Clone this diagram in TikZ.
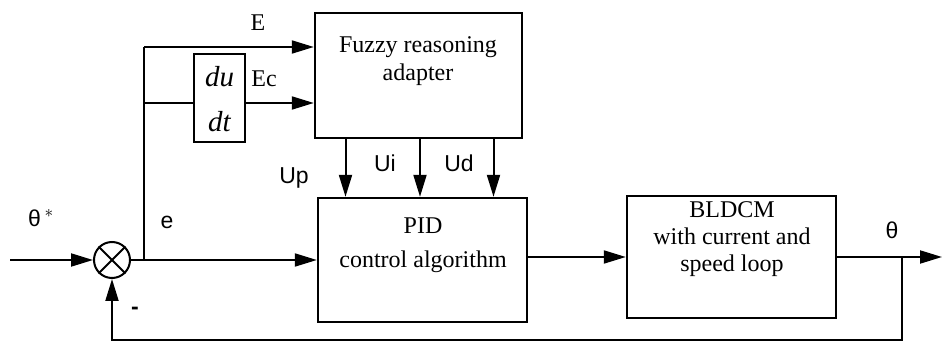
\documentclass[tikz,border=0pt]{standalone}
\usepackage{fontspec}
\setmainfont{Liberation Serif}
\newfontfamily\lsans{Liberation Sans}
\usetikzlibrary{arrows.meta}
\begin{document}
\begin{tikzpicture}[x=1pt,y=-1pt,
  blockbox/.style={draw, line width=2.4pt, inner sep=0pt},
  sig/.style={line width=2pt},
  arr/.style={sig, -{Triangle[length=22pt,width=13pt]}},
  txt/.style={font=\fontsize{24}{28}\selectfont, inner sep=0pt, align=center},
  stxt/.style={font=\lsans\fontsize{23}{26}\selectfont, inner sep=0pt},
  itxt/.style={font=\itshape\fontsize{29}{32}\selectfont, inner sep=0pt}]
\useasboundingbox (0,0) rectangle (943,344);
% blocks
\node[blockbox, minimum width=207pt, minimum height=125pt] (fz) at (418.5,75.5) {};
\node[blockbox, minimum width=209pt, minimum height=124pt] (pid) at (422.5,260) {};
\node[blockbox, minimum width=209pt, minimum height=122pt] (bl) at (731.5,257) {};
\node[blockbox, minimum width=51pt, minimum height=88pt] (dd) at (219.5,98) {};
\node[draw, circle, line width=2pt, minimum size=36pt, inner sep=0pt] (sum) at (112,260) {};
\draw[sig] (sum.north west) -- (sum.south east);
\draw[sig] (sum.north east) -- (sum.south west);
% texts in blocks
\node[txt, anchor=north] (fzt) at (418,36) {Fuzzy reasoning\\adapter};
\node[txt, anchor=north] (pidt) at (423,218) {PID\\[6pt]control algorithm};
\node[txt, anchor=north] (blt) at (732,201) {BLDCM\\[-1pt]with current and\\[-1pt]speed loop};
\node[itxt] (du) at (219.5,77) {du};
\node[itxt] (dt) at (219.5,122) {dt};
% coordinates
\coordinate (in) at (10,260);
\coordinate (br) at (144,260);
\coordinate (tp) at (144,47);
\coordinate (mid) at (144,103);
\coordinate (fb) at (902,257);
\coordinate (fbl) at (902,340);
\coordinate (out) at (942,257);
% connectors
\draw[arr] (in) -- (sum.west);
\draw[arr] (sum.east) -- (pid.west);
\draw[sig] (br) -- (tp);
\draw[arr] (tp) -- (tp -| fz.west);
\draw[sig] (mid) -- (mid -| dd.west);
\draw[arr] (dd.east |- mid) -- (mid -| fz.west);
\draw[arr] ([xshift=-73pt]fz.south) -- ([xshift=-73pt]fz.south |- pid.north);
\draw[arr] ([xshift=1.5pt]fz.south) -- ([xshift=1.5pt]fz.south |- pid.north);
\draw[arr] ([xshift=75pt]fz.south) -- ([xshift=75pt]fz.south |- pid.north);
\draw[arr] (pid.east |- bl.west) -- (bl.west);
\draw[arr] (bl.east) -- (out);
\draw[arr] (fb) -- (fbl) -| (sum.south);
% labels
\node[txt] (lE) at (258,23) {E};
\node[txt] (lEc) at (264,79) {Ec};
\node[stxt] (lUp) at (294,178) {Up};
\node[stxt] (lUi) at (385,163) {Ui};
\node[stxt] (lUd) at (459,163) {Ud};
\node[stxt] (lth1) at (41,218) {θ\,$^{*}$};
\node[stxt] (le) at (167,222) {e};
\node[stxt, font=\lsans\bfseries\fontsize{23}{26}\selectfont] (lm) at (135,311) {-};
\node[stxt] (lth) at (892,230) {θ};
\end{tikzpicture}
\end{document}
